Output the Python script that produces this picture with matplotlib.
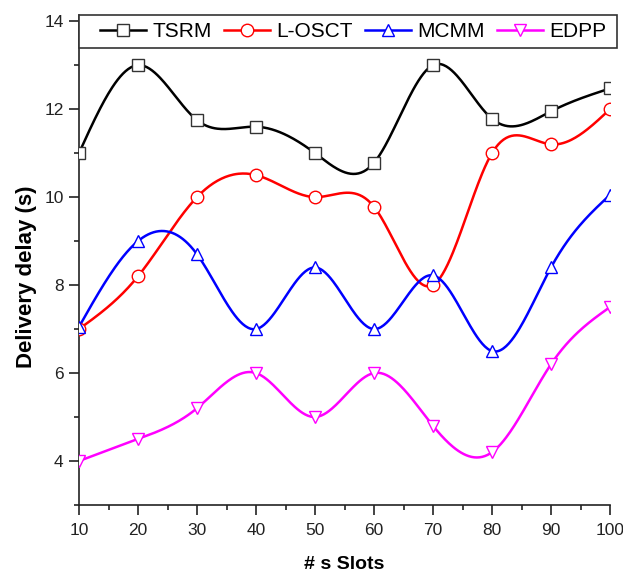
import numpy as np
import matplotlib
matplotlib.use("Agg")
import matplotlib.pyplot as plt
from matplotlib.ticker import MultipleLocator
from matplotlib.patches import Rectangle

plt.rcParams['font.family'] = ['Liberation Sans', 'DejaVu Sans']

slots = [10, 20, 30, 40, 50, 60, 70, 80, 90, 100]
tsrm = [11.0, 13.0, 11.75, 11.6, 11.0, 10.78, 13.0, 11.78, 11.95, 12.47]
losct = [7.0, 8.2, 10.0, 10.5, 10.0, 9.78, 8.0, 11.0, 11.2, 12.0]
mcmm = [7.05, 9.0, 8.7, 7.0, 8.4, 7.0, 8.22, 6.5, 8.4, 10.05]
edpp = [4.0, 4.5, 5.2, 6.0, 5.0, 6.0, 4.8, 4.2, 6.2, 7.5]

series = [
    ("TSRM", tsrm, "black", "s", "#333333"),
    ("L-OSCT", losct, "red", "o", "red"),
    ("MCMM", mcmm, "blue", "^", "blue"),
    ("EDPP", edpp, "magenta", "v", "magenta"),
]


def natural_spline(x, y, xs):
    x = np.asarray(x, float)
    y = np.asarray(y, float)
    n = len(x)
    h = np.diff(x)
    A = np.zeros((n, n))
    b = np.zeros(n)
    A[0, 0] = 1
    A[-1, -1] = 1
    for i in range(1, n - 1):
        A[i, i - 1] = h[i - 1]
        A[i, i] = 2 * (h[i - 1] + h[i])
        A[i, i + 1] = h[i]
        b[i] = 3 * ((y[i + 1] - y[i]) / h[i] - (y[i] - y[i - 1]) / h[i - 1])
    c = np.linalg.solve(A, b)
    out = np.empty_like(xs)
    for k, xv in enumerate(xs):
        i = min(max(np.searchsorted(x, xv) - 1, 0), n - 2)
        dx = xv - x[i]
        bi = (y[i + 1] - y[i]) / h[i] - h[i] * (2 * c[i] + c[i + 1]) / 3
        di = (c[i + 1] - c[i]) / (3 * h[i])
        out[k] = y[i] + bi * dx + c[i] * dx ** 2 + di * dx ** 3
    return out


fig = plt.figure(figsize=(6.23, 5.76), dpi=100)
ax = fig.add_axes([79 / 623, 1 - 505 / 576, 531 / 623, 490 / 576])

xs = np.linspace(slots[0], slots[-1], 400)
for name, vals, col, mk, mcol in series:
    ys = natural_spline(slots, vals, xs)
    ax.plot(xs, ys, color=col, lw=1.8, zorder=2)
    ax.plot(slots, vals, linestyle='none', marker=mk, markersize=9,
            markerfacecolor='white', markeredgecolor=mcol, markeredgewidth=1.0,
            zorder=3)
    ax.plot([], [], color=col, lw=1.8, marker=mk, markersize=9,
            markerfacecolor='white', markeredgecolor=mcol,
            markeredgewidth=1.0, label=name)

ax.set_xlim(10, 100)
ax.set_ylim(3, 14.14)
ax.set_xticks(slots)
ax.set_yticks([4, 6, 8, 10, 12, 14])
ax.xaxis.set_minor_locator(MultipleLocator(5))
ax.yaxis.set_minor_locator(MultipleLocator(1))
ax.tick_params(which='major', direction='out', length=7, width=1.2,
               labelsize=12.5, colors='#222222')
ax.tick_params(axis='x', which='major', pad=6)
ax.tick_params(axis='y', which='major', pad=4)
ax.tick_params(which='minor', direction='out', length=3.6, width=1.2,
               colors='#222222')
for s in ['top', 'right']:
    ax.spines[s].set_visible(False)
for s in ['left', 'bottom']:
    ax.spines[s].set_linewidth(1.2)
    ax.spines[s].set_color('#222222')

ax.set_xlabel("# s Slots", fontsize=14, fontweight='bold', labelpad=13)
ax.set_ylabel("Delivery delay (s)", fontsize=16, fontweight='bold', labelpad=5)
ax.yaxis.label.set_y((505 - 277) / 490)

# legend box
h = 33 / 490
box = Rectangle((0.0, 1.0 - h), 538 / 531, h, transform=ax.transAxes,
                facecolor='white', edgecolor='#333333', linewidth=1.2,
                clip_on=False, zorder=4)
ax.add_patch(box)
leg = ax.legend(loc='center', bbox_to_anchor=((353.5 - 79) / 531, 1.0 - h / 2),
                ncol=4, frameon=False, fontsize=15, handlelength=2.2,
                handletextpad=0.3, columnspacing=0.6, borderaxespad=0,
                borderpad=0)
leg.set_zorder(5)

fig.savefig("out.png", dpi=100)
